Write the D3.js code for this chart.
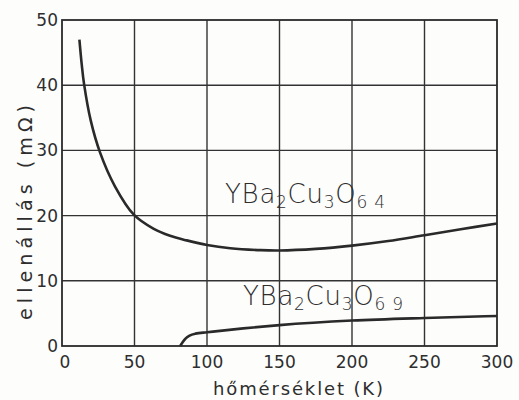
<!DOCTYPE html>
<html>
<head>
<meta charset="utf-8">
<script src="https://cdn.jsdelivr.net/npm/d3@7"></script>
<style>
  body { margin: 0; background: #fdfdfc; }
  svg text { font-family: "DejaVu Sans", sans-serif; fill: #2e2e2e; }
</style>
</head>
<body>
<svg id="chart" width="519" height="400"></svg>
<script>
// values
var xTicks = [0, 50, 100, 150, 200, 250, 300];
var yTicks = [0, 10, 20, 30, 40, 50];

// YBa2Cu3O6.4 : temperature (K), resistance (mOhm)
var t64 = [12, 13.6, 15.2, 19.8, 26.2, 36.5, 49.7, 63, 74.5, 86, 100, 116, 137, 150, 175, 200, 225, 250, 275, 300];
var r64 = [47.0, 43.2, 40.2, 34.6, 29.7, 24.5, 20.1, 18.0, 16.9, 16.2, 15.5, 15.0, 14.7, 14.65, 14.9, 15.4, 16.1, 17.0, 17.9, 18.8];

// YBa2Cu3O6.9
var t69 = [81.5, 83, 85, 88, 92, 100, 125, 150, 200, 250, 300];
var r69 = [0, 0.5, 1.1, 1.6, 1.9, 2.1, 2.7, 3.2, 3.9, 4.3, 4.6];

var svg = d3.select('#chart');
var pLeft = 62, pRight = 497, pTop = 20, pBottom = 346;

var x = d3.scaleLinear().domain([0, 300]).range([pLeft, pRight]);
var y = d3.scaleLinear().domain([0, 50]).range([pBottom, pTop]);

/* grid */
svg.append('g').selectAll('line').data(xTicks.slice(1, -1))
  .enter().append('line')
    .attr('x1', function (d) { return x(d); })
    .attr('x2', function (d) { return x(d); })
    .attr('y1', pTop).attr('y2', pBottom)
    .attr('stroke', '#333').attr('stroke-width', 1.4);

svg.append('g').selectAll('line').data(yTicks.slice(1, -1))
  .enter().append('line')
    .attr('y1', function (d) { return y(d); })
    .attr('y2', function (d) { return y(d); })
    .attr('x1', pLeft).attr('x2', pRight)
    .attr('stroke', '#333').attr('stroke-width', 1.4);

// frame
svg.append('rect')
  .attr('x', pLeft).attr('y', pTop)
  .attr('width', pRight - pLeft).attr('height', pBottom - pTop)
  .attr('fill', 'none').attr('stroke', '#2a2a2a').attr('stroke-width', 1.8);

// tick labels
svg.append('g').selectAll('text').data(xTicks)
  .enter().append('text')
    .attr('x', function (d) { return x(d) + (d === 0 ? 3 : 0); })
    .attr('y', 368)
    .attr('text-anchor', 'middle')
    .style('font-size', '17px')
    .text(function (d) { return d; });

svg.append('g').selectAll('text').data(yTicks)
  .enter().append('text')
    .attr('x', 58)
    .attr('y', function (d) { return y(d) + 6; })
    .attr('text-anchor', 'end')
    .style('font-size', '17px')
    .text(function (d) { return d; });

// axis titles
svg.append('text')
  .attr('x', 213).attr('y', 395)
  .attr('textLength', 170).attr('lengthAdjust', 'spacing')
  .style('font-size', '18px')
  .text('hőmérséklet (K)');

svg.append('text')
  .attr('transform', 'translate(32,320) rotate(-90)')
  .attr('textLength', 215).attr('lengthAdjust', 'spacing')
  .style('font-size', '19px')
  .text('ellenállás (mΩ)');

// curves
var smooth = d3.line()
  .x(function (d) { return x(d[0]); })
  .y(function (d) { return y(d[1]); })
  .curve(d3.curveCatmullRom.alpha(0.5));

var knee = d3.line()
  .x(function (d) { return x(d[0]); })
  .y(function (d) { return y(d[1]); })
  .curve(d3.curveMonotoneX);

svg.append('path')
  .datum(d3.zip(t64, r64))
  .attr('d', smooth)
  .attr('fill', 'none').attr('stroke', '#2a2a2a').attr('stroke-width', 2.6);

svg.append('path')
  .datum(d3.zip(t69, r69))
  .attr('d', knee)
  .attr('fill', 'none').attr('stroke', '#2a2a2a').attr('stroke-width', 2.6);

// formula labels
function formula(xPos, yPos, last) {
  var t = svg.append('text')
    .attr('x', xPos).attr('y', yPos)
    .attr('textLength', 160).attr('lengthAdjust', 'spacing')
    .style('font-size', '26px')
    .style('font-weight', '200');
  var parts = [['Y', 0], ['Ba', 0], ['2', 1], ['Cu', 0], ['3', 1], ['O', 0], [last, 1]];
  var prev = 0;
  parts.forEach(function (p) {
    var s = t.append('tspan').text(p[0]);
    if (p[1] !== prev) s.attr('dy', p[1] ? 5 : -5);
    s.style('font-size', p[1] ? '17px' : '26px');
    prev = p[1];
  });
}
formula(225, 203, '6 4');
formula(243, 305, '6 9');
</script>
</body>
</html>
